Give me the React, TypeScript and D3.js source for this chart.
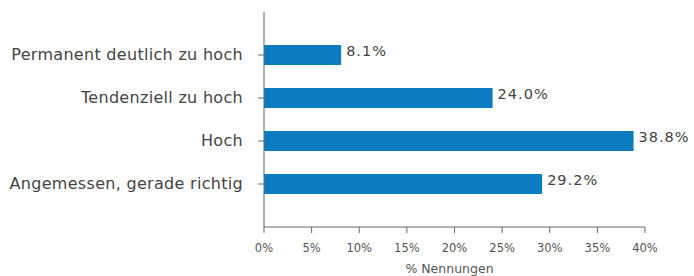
import React from "react";
import * as d3 from "d3";

const categories = [
  "Permanent deutlich zu hoch",
  "Tendenziell zu hoch",
  "Hoch",
  "Angemessen, gerade richtig",
];
const values = [8.1, 24.0, 38.8, 29.2];
const xTicks = [0, 5, 10, 15, 20, 25, 30, 35, 40];

const width = 694;
const height = 276;
const margin = { top: 12, right: 49, bottom: 49, left: 264 };
const barColor = "#0a7cbf";
const axisColor = "#666";
const font = "Verdana, 'DejaVu Sans', sans-serif";

export default function App() {
  const x = d3
    .scaleLinear()
    .domain([0, 40])
    .range([margin.left, width - margin.right]);
  const y = d3
    .scalePoint<string>()
    .domain(categories)
    .range([margin.top, height - margin.bottom])
    .padding(1);
  const barH = 20;
  const x0 = x(0);
  const yBottom = height - margin.bottom;

  return (
    <svg
      width={width}
      height={height}
      style={{ position: "absolute", left: 0, top: 0, background: "#fff" }}
    >
      {/* bars */}
      {categories.map((c, i) => (
        <g key={c}>
          <rect
            x={x0}
            y={(y(c) as number) - barH / 2}
            width={x(values[i]) - x0}
            height={barH}
            fill={barColor}
          />
          <text
            x={x(values[i]) + 5}
            y={(y(c) as number) - 3}
            dominantBaseline="middle"
            fontFamily={font}
            fontSize={14.5}
            letterSpacing={1}
            fill="#444"
          >
            {values[i].toFixed(1)}%
          </text>
          <line
            x1={x0 - 6}
            x2={x0}
            y1={y(c)}
            y2={y(c)}
            stroke={axisColor}
          />
          <text
            x={x0 - 21}
            y={y(c)}
            textAnchor="end"
            dominantBaseline="middle"
            fontFamily={font}
            fontSize={16}
            letterSpacing={0.3}
            fill="#444"
          >
            {c}
          </text>
        </g>
      ))}

      {/* y axis */}
      <line x1={x0} x2={x0} y1={margin.top} y2={yBottom} stroke={axisColor} />

      {/* x axis */}
      <line
        x1={x0}
        x2={x(40)}
        y1={yBottom}
        y2={yBottom}
        stroke={axisColor}
      />
      {xTicks.map((t) => (
        <g key={t}>
          <line
            x1={x(t)}
            x2={x(t)}
            y1={yBottom}
            y2={yBottom + 6}
            stroke={axisColor}
          />
          <text
            x={x(t)}
            y={yBottom + 25}
            textAnchor="middle"
            fontFamily={font}
            fontSize={11.5}
            fill="#555"
          >
            {t}%
          </text>
        </g>
      ))}
      <text
        x={(x(0) + x(40)) / 2 - 5}
        y={height - 3}
        textAnchor="middle"
        fontFamily={font}
        fontSize={12.5}
        fill="#555"
      >
        % Nennungen
      </text>
    </svg>
  );
}
